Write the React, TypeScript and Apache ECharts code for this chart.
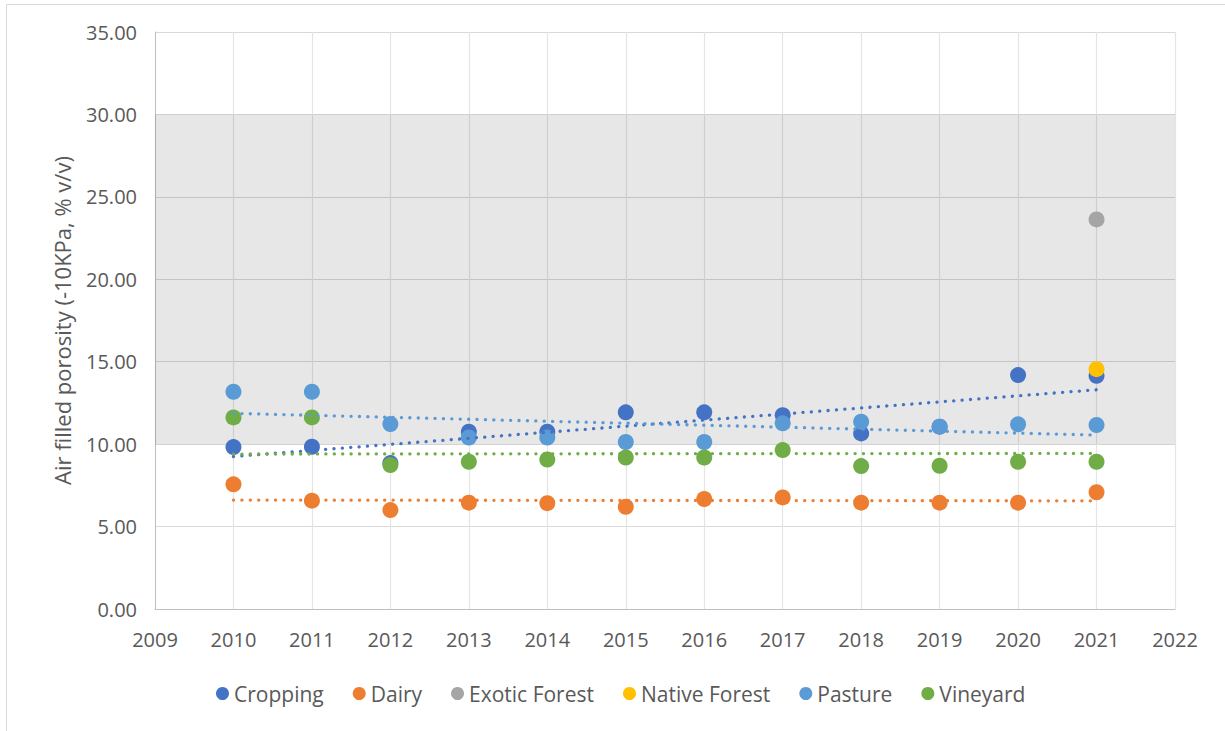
import React, { useEffect, useRef } from "react";
import * as echarts from "echarts";

const years = [2010, 2011, 2012, 2013, 2014, 2015, 2016, 2017, 2018, 2019, 2020, 2021];

const croppingYears = [2010, 2011, 2012, 2013, 2014, 2015, 2016, 2017, 2018, 2019, 2020, 2021];
const croppingValues = [9.82, 9.84, 8.85, 10.75, 10.75, 11.93, 11.93, 11.76, 10.65, 11.06, 14.19, 14.15];

const dairyValues = [7.56, 6.57, 6.0, 6.45, 6.42, 6.2, 6.67, 6.77, 6.45, 6.45, 6.45, 7.08];

const exoticYears = [2021];
const exoticValues = [23.63];

const nativeYears = [2021];
const nativeValues = [14.55];

const pastureValues = [13.18, 13.18, 11.22, 10.4, 10.4, 10.13, 10.13, 11.26, 11.36, 11.06, 11.2, 11.16];

const vineyardValues = [11.62, 11.62, 8.73, 8.93, 9.07, 9.19, 9.19, 9.64, 8.67, 8.69, 8.93, 8.93];

// Linear trendline end points (2010 and 2021) as drawn in the reference
const trendYears = [2010, 2021];
const croppingTrend = [9.25, 13.3];
const dairyTrend = [6.61, 6.56];
const pastureTrend = [11.87, 10.55];
const vineyardTrend = [9.4, 9.44];

// shaded band
const bandRange = [10, 30];

const seriesNames = ["Cropping", "Dairy", "Exotic Forest", "Native Forest", "Pasture", "Vineyard"];
const seriesColors = ["#4472C4", "#ED7D31", "#A5A5A5", "#FFC000", "#5B9BD5", "#70AD47"];

const FONT = "'Open Sans', 'Noto Sans', sans-serif";
const TEXT = "#595959";

function pairs(xs: number[], ys: number[]) {
  return xs.map((x, i) => [x, ys[i]]);
}

export default function App() {
  const ref = useRef<HTMLDivElement>(null);

  useEffect(() => {
    document.body.style.margin = "0";
    if (!ref.current) return;
    const chart = echarts.init(ref.current, undefined, { renderer: "svg" });

    const scatterData = [
      pairs(croppingYears, croppingValues),
      pairs(years, dairyValues),
      pairs(exoticYears, exoticValues),
      pairs(nativeYears, nativeValues),
      pairs(years, pastureValues),
      pairs(years, vineyardValues),
    ];

    const scatterSeries: any[] = seriesNames.map((name, i) => ({
      name,
      type: "scatter",
      data: scatterData[i],
      symbol: "circle",
      symbolSize: 16,
      itemStyle: { color: seriesColors[i], opacity: 1 },
      z: 2,
      silent: true,
    }));

    scatterSeries[0].markArea = {
      silent: true,
      itemStyle: { color: "rgba(0,0,0,0.094)" },
      data: [[{ yAxis: bandRange[0] }, { yAxis: bandRange[1] }]],
    };

    const trends: [string, number[], string][] = [
      ["Cropping trend", croppingTrend, seriesColors[0]],
      ["Dairy trend", dairyTrend, seriesColors[1]],
      ["Pasture trend", pastureTrend, seriesColors[4]],
      ["Vineyard trend", vineyardTrend, seriesColors[5]],
    ];

    const trendSeries = trends.map(([name, vals, color]) => ({
      name,
      type: "line",
      data: pairs(trendYears, vals),
      symbol: "none",
      silent: true,
      z: 3,
      lineStyle: { color, width: 3.3, type: [0.1, 8.3], cap: "round" },
    }));

    chart.setOption({
      animation: false,
      backgroundColor: "#FFFFFF",
      textStyle: { fontFamily: FONT },
      grid: { left: 155, right: 50, top: 32, bottom: 122, containLabel: false },
      xAxis: {
        type: "value",
        min: 2009,
        max: 2022,
        interval: 1,
        axisLine: { show: true, lineStyle: { color: "#BFBFBF", width: 1 } },
        axisTick: { show: false },
        axisLabel: {
          color: TEXT,
          fontSize: 20,
          fontFamily: FONT,
          margin: 20,
          formatter: (v: number) => String(v),
        },
        splitLine: { show: true, lineStyle: { color: "#E4E4E4", width: 1.2 } },
      },
      yAxis: {
        type: "value",
        min: 0,
        max: 35,
        interval: 5,
        name: "Air filled porosity (-10KPa, % v/v)",
        nameLocation: "middle",
        nameGap: 82,
        nameTextStyle: { color: TEXT, fontSize: 22, fontFamily: FONT },
        axisLine: { show: true, lineStyle: { color: "#BFBFBF", width: 1 } },
        axisTick: { show: false },
        axisLabel: {
          color: TEXT,
          fontSize: 20,
          fontFamily: FONT,
          margin: 18,
          formatter: (v: number) => v.toFixed(2),
        },
        splitLine: { show: true, lineStyle: { color: "#D9D9D9", width: 1.2 } },
      },
      legend: {
        data: seriesNames,
        icon: "circle",
        itemWidth: 13,
        itemHeight: 13,
        itemGap: 29,
        left: 211,
        top: 678,
        textStyle: { color: TEXT, fontSize: 21, fontFamily: FONT },
        selectedMode: false,
      },
      graphic: [
        {
          type: "rect",
          left: 4,
          top: 2,
          shape: { x: 0, y: 0, width: 1240, height: 760 },
          style: { fill: "none", stroke: "#D9D9D9", lineWidth: 1 },
          silent: true,
          z: -1,
        },
      ],
      series: [...scatterSeries, ...trendSeries],
    });

    return () => chart.dispose();
  }, []);

  return <div ref={ref} style={{ width: 1225, height: 731 }} />;
}
